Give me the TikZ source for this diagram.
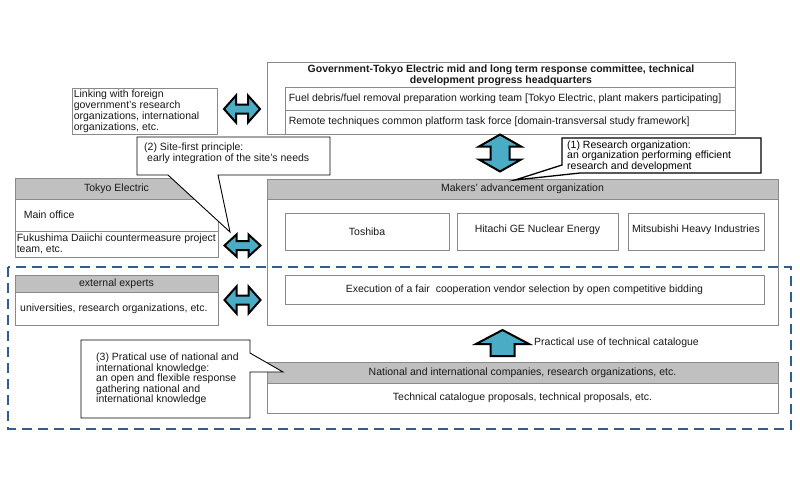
\documentclass[tikz,border=0pt]{standalone}
\usepackage{fontspec}
\setmainfont{Liberation Sans}
\usetikzlibrary{calc,fit,positioning}

\definecolor{hdrGray}{HTML}{C0C0C0}
\definecolor{lineGray}{HTML}{8A8A8A}
\definecolor{arrowBlue}{HTML}{4BACC6}
\definecolor{dashBlue}{HTML}{2F5D8C}

\newcommand{\diagFont}{\fontsize{10.5}{11}\selectfont}
\newcommand{\tightFont}{\fontsize{10.5}{10.4}\selectfont}

\tikzset{
    plainbox/.style={draw=lineGray, line width=0.8pt, inner sep=0pt, fill=white},
    headbox/.style={fill=hdrGray},
    boxtext/.style={inner sep=0pt, text=black!90},
    balloon/.style={draw=black, line width=0.9pt, fill=white, line join=miter},
    blockarrow/.style={draw=black, line width=2pt, fill=arrowBlue, line join=miter},
    dashframe/.style={draw=dashBlue, line width=2.6pt, dash pattern=on 10pt off 6pt},
}

\begin{document}
\begin{tikzpicture}[x=1pt,y=-1pt,font=\diagFont]
\useasboundingbox (0,0) rectangle (800,483);

\newcommand{\drawBox}[6][]{
    \node[plainbox,#1,fit={(#3,#4) (#5,#6)}] (#2) {};
}

\newcommand{\drawBiArrowH}[3]{
    \begin{scope}[shift={(#1)}]
    \draw[blockarrow] (-#2,0) -- (-#2+12,-#3) -- (-#2+12,-4.5) -- (#2-12,-4.5) -- (#2-12,-#3)
        -- (#2,0) -- (#2-12,#3) -- (#2-12,4.5) -- (-#2+12,4.5) -- (-#2+12,#3) -- cycle;
    \end{scope}
}

\newcommand{\drawBiArrowV}[3]{
    \begin{scope}[shift={(#1)}]
    \draw[blockarrow] (0,-#2) -- (#3,-#2+12) -- (9.5,-#2+12) -- (9.5,#2-12) -- (#3,#2-12)
        -- (0,#2) -- (-#3,#2-12) -- (-9.5,#2-12) -- (-9.5,-#2+12) -- (-#3,-#2+12) -- cycle;
    \end{scope}
}

% committee
\drawBox{gov}{267}{62}{735}{134}
\drawBox{govFuel}{285}{87}{735}{110}
\drawBox{govRemote}{285}{110}{735}{134}
\node[boxtext,font={\diagFont\bfseries},align=center] (tGov) at (501,75) {Government-Tokyo Electric mid and long term response committee, technical\\development progress headquarters};
\node[boxtext,anchor=west] (tFuel) at ([xshift=4pt]govFuel.west) {Fuel debris/fuel removal preparation working team [Tokyo Electric, plant makers participating]};
\node[boxtext,anchor=west] (tRemote) at ([xshift=4pt]govRemote.west) {Remote techniques common platform task force [domain-transversal study framework]};

% foreign links
\drawBox{link}{72}{88}{217}{134}
\node[boxtext,anchor=west,align=left] (tLink) at ([xshift=2pt]link.west) {Linking with foreign\\government's research\\organizations, international\\organizations, etc.};

% Tokyo Electric
\drawBox{tokyo}{15}{178}{218}{257}
\drawBox[headbox]{tokyoHead}{15}{178}{218}{199}
\drawBox{tokyoMain}{15}{199}{218}{231}
\drawBox{tokyoFuku}{15}{231}{218}{257}
\node[boxtext] (tTokyo) at (tokyoHead.center) {Tokyo Electric};
\node[boxtext,anchor=west] (tMain) at ([xshift=9pt]tokyoMain.west) {Main office};
\node[boxtext,anchor=west,align=left] (tFuku) at ([xshift=2pt]tokyoFuku.west) {Fukushima Daiichi countermeasure project\\team, etc.};

% makers
\drawBox{makers}{267}{179}{778}{325}
\drawBox[headbox]{makersHead}{267}{179}{778}{199}
\drawBox{toshiba}{285}{213}{449}{250}
\drawBox{hitachi}{457}{213}{618}{250}
\drawBox{mitsubishi}{628}{213}{764}{250}
\drawBox{vendor}{285}{275}{764}{304}
\node[boxtext] (tMakers) at (makersHead.center) {Makers' advancement organization};
\node[boxtext] (tToshiba) at (toshiba.center) {Toshiba};
\node[boxtext] (tHitachi) at ([yshift=2pt]hitachi.center) {Hitachi GE Nuclear Energy};
\node[boxtext] (tMitsubishi) at ([yshift=2pt]mitsubishi.center) {Mitsubishi Heavy Industries};
\node[boxtext] (tVendor) at (vendor.center) {Execution of a fair\ \ cooperation vendor selection by open competitive bidding};

% external experts
\drawBox{experts}{15}{275}{218}{325}
\drawBox[headbox]{expertsHead}{15}{275}{218}{292}
\node[boxtext] (tExperts) at (expertsHead.center) {external experts};
\node[boxtext,anchor=west] (tUniv) at (20,308.5) {universities, research organizations, etc.};

% national and international companies
\drawBox{national}{267}{362}{778}{413}
\drawBox[headbox]{nationalHead}{267}{362}{778}{383}
\node[boxtext] (tNational) at (nationalHead.center) {National and international companies, research organizations, etc.};
\node[boxtext] (tProposals) at (522.5,398) {Technical catalogue proposals, technical proposals, etc.};

% callouts
\draw[balloon] (137,137) -- (330,137) -- (330,175) -- (218,175) -- (230,232) -- (168,175) -- (137,175) -- cycle;
\node[boxtext,anchor=west,align=left] (tSite) at (144,153.5) {(2) Site-first principle:\\\hspace{3pt}early integration of the site's needs};

\draw[balloon,line width=1.3pt] (562,138) -- (761,138) -- (761,173) -- (580,173) -- (515,180) -- (562,165) -- cycle;
\node[boxtext,font=\tightFont,text=black,anchor=west,align=left] (tResearch) at (567,156) {(1) Research organization:\\an organization performing efficient\\research and development};

\draw[balloon] (81,340) -- (250,340) -- (250,353) -- (283,372) -- (250,372) -- (250,418) -- (81,418) -- cycle;
\node[boxtext,font=\tightFont,anchor=west,align=left] (tKnowledge) at (96,379) {(3) Pratical use of national and\\international knowledge:\\an open and flexible response\\gathering national and\\international knowledge};

% block arrows
\foreach \from/\to/\yc/\hh in {link/gov/109/13.5, tokyoFuku/makers/245.5/11, experts/makers/300/13.5}
{
    \coordinate (cArrPt) at ($(\from.east)!0.5!(\to.west)$);
    \drawBiArrowH{cArrPt |- 0,\yc}{18}{\hh}
}
\drawBiArrowV{500,153}{18.5}{21}
\draw[blockarrow] (502.5,330) -- (529,344) -- (514.5,344) -- (514.5,356) -- (490.5,356) -- (490.5,344) -- (476,344) -- cycle;
\node[boxtext,anchor=west] (tPractical) at (534,343) {Practical use of technical catalogue};

% open framework
\draw[dashframe] (8,267) rectangle (791,429);
\end{tikzpicture}
\end{document}
